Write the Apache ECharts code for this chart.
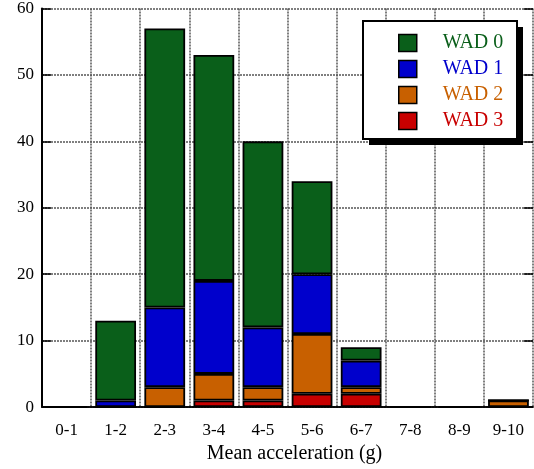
<!DOCTYPE html>
<html><head><meta charset="utf-8">
<script src="https://cdn.jsdelivr.net/npm/echarts@6/dist/echarts.min.js"></script>
<style>html,body{margin:0;padding:0;background:#fff}#c{width:534px;height:469px}</style>
</head><body><div id="c"></div>
<script>
var categories = ['0-1','1-2','2-3','3-4','4-5','5-6','6-7','7-8','8-9','9-10'];
var wad0 = [0,12,42,34,28,14,2,0,0,0];
var wad1 = [0,1,12,14,9,9,4,0,0,0];
var wad2 = [0,0,3,4,2,9,1,0,0,1];
var wad3 = [0,0,0,1,1,2,2,0,0,0];
var seriesNames = ['WAD 0','WAD 1','WAD 2','WAD 3'];
var colors = {'WAD 0':'#0a5f1a','WAD 1':'#0000cc','WAD 2':'#c86000','WAD 3':'#c80000'};
var yTicks = {min:0, max:60, interval:10};

var font = 'Liberation Serif';
function bar(name, data){
  return {name:name, type:'bar', stack:'s', data:data, barCategoryGap:'17%',
    itemStyle:{color:colors[name], borderColor:'#000', borderWidth:1.8}};
}
var chart = echarts.init(document.getElementById('c'));
chart.setOption({
  animation:false,
  textStyle:{fontFamily:font},
  grid:{left:42, right:1, top:6, bottom:58},
  graphic:[
    {type:'rect', z:3, shape:{x:369, y:27, width:154, height:118}, style:{fill:'#000'}},
    {type:'rect', z:3, shape:{x:363, y:21, width:154, height:118}, style:{fill:'#fff', stroke:'#000', lineWidth:2}}
  ],
  legend:{
    data:seriesNames.map(function(n){return {name:n, textStyle:{color:colors[n]}};}),
    orient:'vertical', left:398, top:33, z:5,
    padding:0, itemGap:6, itemWidth:18, itemHeight:17, icon:'rect',
    textStyle:{fontFamily:font, fontSize:20, lineHeight:20, padding:[0,0,0,21]},
    itemStyle:{borderColor:'#000', borderWidth:1.5}
  },
  xAxis:[{
    type:'category', data:categories, position:'bottom',
    axisLine:{lineStyle:{color:'#000', width:1.5}},
    axisTick:{inside:true, length:8, lineStyle:{color:'#000', width:1.5}},
    axisLabel:{color:'#000', fontSize:17, fontFamily:font, margin:15},
    splitLine:{show:true, lineStyle:{color:'#555', type:[2,1], width:1.5}},
    name:'Mean acceleration (g)', nameLocation:'middle', nameGap:35,
    nameTextStyle:{color:'#000', fontSize:20, fontFamily:font, padding:[0,0,0,14]}
  },{
    type:'category', data:categories, position:'top',
    axisLine:{lineStyle:{color:'#000', width:1.5}},
    axisTick:{inside:true, length:8, lineStyle:{color:'#000', width:1.5}},
    axisLabel:{show:false}, splitLine:{show:false}
  }],
  yAxis:[{
    type:'value', min:yTicks.min, max:yTicks.max, interval:yTicks.interval,
    axisLine:{show:true, lineStyle:{color:'#000', width:2}},
    axisTick:{show:true, inside:true, length:9, lineStyle:{color:'#000', width:1.5}},
    axisLabel:{color:'#000', fontSize:17, fontFamily:font, margin:8},
    splitLine:{show:true, lineStyle:{color:'#555', type:[2,1], width:1.5}}
  },{
    type:'value', min:yTicks.min, max:yTicks.max, interval:yTicks.interval, position:'right',
    axisLine:{show:false},
    axisTick:{show:true, inside:true, length:9, lineStyle:{color:'#000', width:1.5}},
    axisLabel:{show:false}, splitLine:{show:false}
  }],
  series:[bar('WAD 3', wad3), bar('WAD 2', wad2), bar('WAD 1', wad1), bar('WAD 0', wad0)]
});
</script></body></html>
